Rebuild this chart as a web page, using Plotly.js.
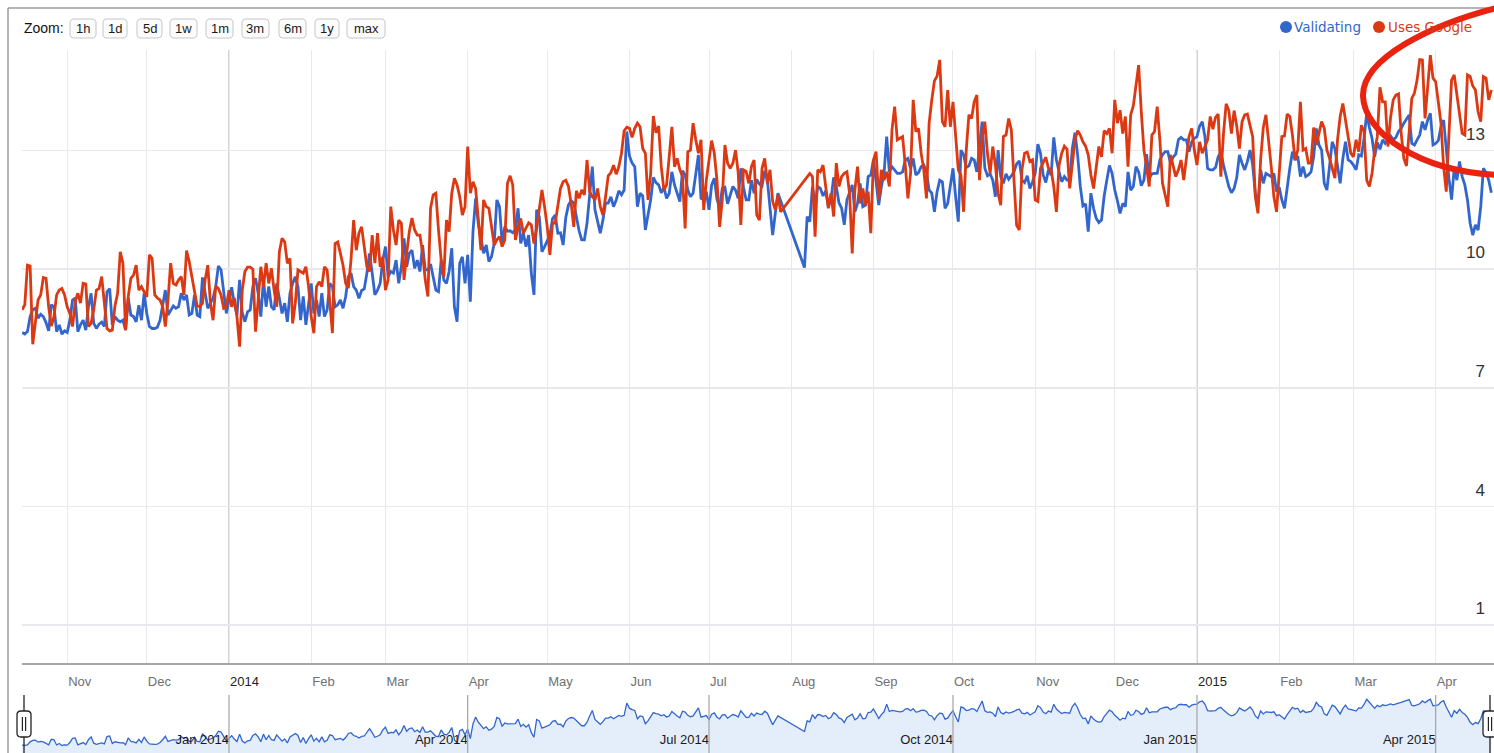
<!DOCTYPE html>
<html>
<head>
<meta charset="utf-8">
<script src="https://cdn.plot.ly/plotly-3.0.1.min.js"></script>
<style>html,body{margin:0;padding:0;background:#fff;}#chart{width:1494px;height:753px;}</style>
</head>
<body>
<div id="chart"></div>
<script>
// ---------------- DATA ----------------
// Daily values, first day = 2013-10-15; null = no data (line is joined across the gap)
const startDate = [2013, 9, 15];

const seriesNames = ['Validating', 'Uses Google'];

const validating = [
 8.40, 8.36, 8.42, 8.80, 8.98, 9.01, 8.76, 8.86, 8.80, 8.65,
 8.44, 9.10, 9.05, 8.42, 8.59, 8.36, 8.44, 8.40, 8.71, 9.22,
 9.27, 8.42, 8.59, 8.71, 8.46, 9.05, 9.39, 8.63, 8.50, 8.61,
 8.66, 8.55, 9.43, 9.51, 8.59, 8.80, 8.71, 8.67, 8.71, 8.46,
 9.27, 8.84, 8.80, 8.67, 9.09, 8.71, 9.39, 8.88, 8.55, 8.50,
 8.50, 8.53, 8.71, 9.05, 9.47, 8.84, 8.97, 9.07, 9.01, 9.05,
 9.39, 9.22, 9.35, 8.84, 8.88, 9.35, 8.84, 8.80, 9.79, 9.35,
 9.01, 9.14, 9.27, 9.56, 10.08, 9.98, 9.47, 8.88, 9.22, 9.54,
 9.14, 8.84, 9.73, 8.90, 8.67, 8.92, 8.97, 9.56, 9.77, 9.39,
 8.80, 9.73, 9.05, 9.56, 9.05, 8.97, 9.64, 9.22, 8.88, 9.14,
 8.67, 9.39, 9.64, 9.81, 9.56, 8.71, 9.31, 8.59, 9.18, 9.64,
 8.88, 9.22, 8.80, 9.39, 8.80, 8.97, 9.64, 9.56, 9.05, 9.10,
 9.22, 9.01, 9.31, 9.81, 9.90, 9.56, 9.47, 9.26, 9.46, 9.50,
 9.90, 10.40, 9.90, 9.35, 9.47, 9.64, 10.23, 10.57, 9.81, 9.94,
 9.90, 10.23, 9.64, 10.06, 10.78, 10.06, 10.40, 10.48, 10.02, 10.23,
 9.94, 10.61, 9.98, 9.98, 10.13, 9.77, 9.47, 9.43, 10.23, 9.73,
 9.64, 9.94, 10.53, 9.05, 8.67, 10.15, 10.31, 9.64, 10.36, 9.18,
 10.95, 11.79, 11.16, 10.78, 10.40, 10.61, 10.19, 10.32, 10.65, 11.75,
 11.58, 10.65, 11.07, 10.96, 10.97, 10.92, 10.99, 11.54, 10.65, 10.91,
 10.57, 10.86, 9.90, 9.35, 11.50, 11.33, 10.44, 10.57, 10.74, 10.86,
 11.28, 11.37, 10.91, 10.92, 10.61, 11.31, 11.62, 11.73, 11.67, 11.34,
 10.97, 10.74, 10.74, 11.16, 11.92, 12.59, 11.50, 11.24, 10.91, 11.24,
 11.67, 11.67, 11.83, 11.58, 11.75, 11.98, 11.88, 12.00, 13.48, 12.86,
 12.68, 12.59, 11.58, 11.92, 11.85, 10.99, 11.33, 11.75, 12.32, 12.19,
 12.13, 11.93, 12.07, 11.79, 11.92, 12.46, 12.13, 11.92, 11.71, 12.49,
 12.38, 12.00, 11.83, 11.92, 12.42, 12.89, 11.77, 11.82, 11.96, 11.50,
 12.13, 12.30, 11.77, 11.56, 12.04, 12.07, 11.65, 11.88, 12.09, 12.00,
 11.79, 12.55, 12.07, 11.75, 11.75, 12.25, 11.92, 12.27, 12.15, 12.10,
 12.49, 12.25, 11.54, 10.86, 11.41, 11.92, null, null, null, null,
 null, null, null, null, null, 10.04, 11.33, 11.20, 12.09, 11.62,
 12.09, 12.04, 11.85, 11.98, 11.58, 11.76, 12.32, 12.09, 11.68, 11.54,
 11.12, 11.75, 11.96, 12.13, 11.45, 11.66, 12.17, 11.58, 11.62, 12.34,
 12.38, 12.76, 12.21, 11.62, 12.09, 12.42, 13.35, 12.46, 12.59, 12.51,
 12.42, 12.42, 12.46, 12.76, 12.80, 12.55, 12.80, 12.38, 12.44, 12.59,
 12.63, 12.46, 12.00, 11.92, 11.45, 11.96, 12.25, 12.21, 11.54, 11.66,
 12.17, 12.55, 11.83, 11.20, 13.01, 12.89, 12.57, 12.61, 12.80, 12.76,
 12.46, 13.10, 13.73, 12.55, 12.36, 12.41, 12.25, 11.83, 13.01, 12.34,
 12.17, 12.41, 12.27, 12.36, 12.46, 12.66, 12.74, 12.25, 12.19, 12.36,
 12.04, 12.21, 12.42, 13.16, 12.93, 12.38, 12.19, 12.51, 12.38, 13.33,
 12.76, 12.46, 12.21, 12.34, 12.25, 12.25, 13.05, 13.45, 12.89, 12.09,
 11.60, 11.65, 10.95, 11.92, 11.54, 11.29, 11.18, 11.24, 11.85, 12.25,
 12.62, 12.42, 12.00, 11.73, 11.41, 11.66, 11.58, 12.46, 12.00, 12.09,
 12.59, 12.46, 12.11, 12.25, 12.91, 12.30, 12.41, 12.42, 12.42, 12.76,
 12.89, 12.97, 12.97, 12.68, 12.83, 12.91, 13.27, 13.33, 13.27, 13.27,
 12.97, 13.22, 13.31, 13.35, 13.62, 13.73, 13.35, 12.55, 12.51, 12.51,
 12.57, 12.84, 12.96, 12.63, 12.34, 12.09, 11.93, 12.04, 12.32, 12.89,
 12.68, 12.51, 12.72, 13.01, 12.63, 11.92, 11.62, 12.51, 12.17, 12.42,
 12.38, 12.34, 12.42, 11.96, 12.07, 11.75, 11.54, 12.09, 12.55, 12.97,
 12.76, 12.86, 12.34, 12.59, 12.34, 12.38, 12.46, 12.84, 13.56, 13.14,
 13.01, 12.17, 12.00, 12.61, 13.22, 13.05, 12.59, 12.17, 12.80, 13.22,
 12.76, 12.72, 12.63, 12.51, 12.89, 12.86, 13.31, 13.94, 13.58, 13.31,
 12.84, 13.20, 13.03, 13.27, 13.18, 13.27, 13.37, 13.27, 13.33, 13.48,
 13.56, 13.69, 13.81, 13.90, 13.18, 13.14, 13.27, 13.39, 13.73, 13.52,
 13.77, 13.94, 13.14, 13.18, 13.25, 13.60, 13.77, 13.01, 12.30, 11.76,
 12.55, 12.25, 12.72, 12.34, 12.13, 11.75, 11.16, 10.86, 11.12, 10.99,
 11.58, 12.55, 12.44, 12.25, 11.93
];

const usesGoogle = [
 8.97, 9.10, 10.10, 10.08, 8.10, 8.63, 9.22, 9.35, 9.79, 9.77,
 9.05, 8.56, 8.80, 9.35, 9.47, 9.51, 9.35, 9.05, 8.88, 8.55,
 9.18, 9.39, 9.14, 9.64, 9.62, 8.55, 8.63, 8.97, 9.47, 9.51,
 9.81, 9.14, 8.50, 8.44, 8.46, 9.07, 9.39, 10.44, 10.15, 8.46,
 9.30, 9.77, 9.85, 10.10, 9.47, 9.56, 9.43, 9.30, 10.36, 10.27,
 9.35, 9.27, 9.22, 9.05, 8.55, 9.22, 10.15, 9.64, 9.60, 9.73,
 9.81, 9.35, 10.47, 10.19, 9.81, 9.47, 9.07, 9.05, 9.14, 9.73,
 10.10, 9.14, 8.71, 9.57, 9.51, 9.35, 9.01, 9.05, 9.47, 9.05,
 9.27, 8.80, 8.04, 9.47, 9.94, 10.05, 10.05, 10.00, 8.42, 9.22,
 10.06, 9.56, 10.15, 9.64, 10.02, 9.47, 9.05, 10.44, 10.78, 10.69,
 10.15, 10.27, 8.63, 9.14, 9.98, 9.94, 9.90, 10.06, 9.56, 8.80,
 8.38, 9.56, 9.68, 9.56, 10.06, 9.98, 9.05, 8.38, 10.65, 10.69,
 10.40, 10.10, 9.64, 9.52, 10.23, 11.24, 10.48, 10.91, 11.07, 10.57,
 10.06, 9.94, 10.86, 10.15, 10.91, 10.06, 10.31, 9.47, 9.73, 11.58,
 10.99, 10.61, 11.24, 11.16, 9.73, 10.40, 10.95, 11.29, 10.99, 10.86,
 10.86, 10.40, 9.73, 9.31, 11.54, 11.88, 11.92, 10.99, 10.23, 9.81,
 11.24, 10.95, 11.92, 12.30, 12.13, 11.83, 11.37, 11.58, 13.10, 11.92,
 12.21, 12.04, 11.33, 10.48, 11.75, 11.58, 11.54, 11.03, 10.61, 10.74,
 10.82, 10.57, 10.74, 12.17, 12.36, 12.13, 10.74, 11.07, 11.28, 10.91,
 11.06, 11.17, 11.12, 10.65, 11.03, 11.58, 12.00, 11.58, 11.07, 10.36,
 11.17, 11.16, 11.58, 12.04, 12.21, 12.25, 12.09, 11.67, 11.07, 11.98,
 11.79, 12.00, 11.88, 12.76, 11.96, 11.83, 11.75, 12.04, 11.58, 11.37,
 11.83, 12.36, 12.44, 12.63, 12.40, 12.59, 12.93, 13.50, 13.59, 13.56,
 13.33, 13.56, 13.69, 13.60, 13.05, 12.93, 11.75, 12.42, 13.87, 13.45,
 13.62, 12.59, 12.00, 12.13, 12.85, 13.60, 12.59, 12.80, 12.51, 12.34,
 11.03, 12.97, 13.01, 13.69, 13.27, 12.93, 13.27, 11.50, 12.25, 12.80,
 13.25, 12.93, 12.25, 11.07, 11.75, 13.14, 12.68, 12.55, 12.68, 13.01,
 12.44, 11.12, 12.51, 12.47, 12.17, 12.59, 12.76, 11.37, 11.24, 12.55,
 12.80, 12.17, 12.51, 11.71, 11.50, 11.88, 11.45, null, null, null,
 null, null, null, null, null, null, null, 12.42, 12.34, 10.82,
 12.51, 12.46, 12.63, 12.09, 11.54, 11.92, 11.33, 12.68, 12.09, 12.34,
 12.42, 12.46, 11.92, 10.40, 12.00, 12.59, 11.66, 12.04, 11.62, 11.96,
 10.91, 12.76, 12.97, 11.75, 12.51, 12.25, 12.46, 12.09, 13.52, 14.11,
 13.27, 13.31, 13.35, 12.63, 11.79, 12.42, 14.28, 13.48, 13.56, 12.93,
 12.51, 11.79, 13.69, 14.28, 14.76, 14.88, 15.29, 13.73, 13.60, 14.53,
 13.60, 14.23, 13.27, 12.51, 12.38, 11.45, 13.01, 13.90, 13.81, 14.23,
 14.40, 12.25, 13.31, 13.73, 12.93, 12.42, 13.10, 12.63, 11.92, 11.62,
 13.35, 13.39, 13.81, 13.52, 12.25, 11.11, 10.99, 12.51, 12.93, 12.96,
 12.72, 12.76, 11.75, 11.71, 12.55, 12.68, 12.83, 12.55, 12.51, 12.09,
 11.45, 12.63, 12.93, 13.11, 13.03, 12.04, 12.68, 13.27, 13.50, 13.39,
 13.22, 13.11, 12.89, 12.38, 12.04, 12.51, 13.10, 12.84, 13.50, 13.43,
 13.56, 12.93, 14.28, 13.69, 14.02, 13.43, 13.86, 12.59, 13.90, 14.13,
 14.70, 15.16, 13.98, 13.01, 12.59, 12.09, 13.39, 13.48, 14.11, 13.27,
 12.17, 11.83, 11.58, 12.89, 12.59, 12.34, 12.51, 12.76, 12.25, 12.89,
 13.35, 13.56, 13.01, 12.63, 13.22, 12.93, 13.08, 13.27, 13.86, 13.54,
 13.84, 13.92, 12.34, 13.43, 14.18, 14.01, 13.43, 14.01, 13.62, 13.05,
 13.73, 13.90, 13.92, 13.64, 13.35, 11.83, 11.41, 12.76, 13.58, 13.90,
 13.31, 12.59, 11.83, 11.45, 12.42, 13.35, 13.37, 13.92, 13.86, 13.39,
 12.76, 13.01, 14.23, 13.01, 13.05, 12.68, 12.68, 13.58, 13.14, 13.48,
 13.73, 13.56, 13.01, 12.80, 12.55, 12.30, 13.27, 13.86, 14.19, 13.73,
 13.33, 12.93, 12.84, 13.27, 12.97, 13.64, 13.48, 12.25, 12.09, 12.42,
 13.01, 13.35, 14.60, 14.23, 14.23, 13.10, 13.84, 14.28, 14.40, 14.43,
 13.43, 12.80, 12.61, 13.60, 14.32, 14.45, 14.78, 15.30, 15.29, 13.81,
 14.53, 15.41, 14.83, 14.74, 14.23, 13.69, 12.59, 11.96, 13.39, 14.78,
 14.91, 14.45, 13.94, 13.43, 13.39, 14.91, 14.87, 14.63, 14.53, 13.98,
 13.73, 14.87, 14.83, 14.28, 14.53
];

const monthTickDates = ['2013-11-01','2013-12-01','2014-01-01','2014-02-01','2014-03-01','2014-04-01','2014-05-01','2014-06-01','2014-07-01','2014-08-01','2014-09-01','2014-10-01','2014-11-01','2014-12-01','2015-01-01','2015-02-01','2015-03-01','2015-04-01'];
const monthTickLabels = ['Nov','Dec','2014','Feb','Mar','Apr','May','Jun','Jul','Aug','Sep','Oct','Nov','Dec','2015','Feb','Mar','Apr'];
const yearStarts = ['2014-01-01','2015-01-01'];
const navTickDates = ['2014-01-01','2014-04-01','2014-07-01','2014-10-01','2015-01-01','2015-04-01'];
const navTickLabels = ['Jan 2014','Apr 2014','Jul 2014','Oct 2014','Jan 2015','Apr 2015'];
const yTicks = [1, 4, 7, 10, 13];
const zoomLabels = ['1h','1d','5d','1w','1m','3m','6m','1y','max'];

// ---------------- BUILD ----------------
const W = 1494, H = 753;
const PX = x => x / W, PY = y => 1 - y / H;
const dates = validating.map((_, i) =>
  new Date(Date.UTC(startDate[0], startDate[1], startDate[2] + i)).toISOString().slice(0, 10));

const BLUE = '#3366cc', RED = '#dc3912';
const FONT = 'Liberation Sans, Arial, sans-serif';

const traces = [
  {x: dates, y: validating, name: seriesNames[0], type: 'scatter', mode: 'lines',
   line: {color: BLUE, width: 2.8}, connectgaps: true, xaxis: 'x', yaxis: 'y', hoverinfo: 'skip'},
  {x: dates, y: usesGoogle, name: seriesNames[1], type: 'scatter', mode: 'lines',
   line: {color: RED, width: 2.8}, connectgaps: true, xaxis: 'x', yaxis: 'y', hoverinfo: 'skip'},
  {x: dates, y: validating, name: seriesNames[0] + ' (range)', type: 'scatter', mode: 'lines',
   line: {color: BLUE, width: 1.3}, fill: 'tozeroy', fillcolor: '#e4eefa', connectgaps: true,
   xaxis: 'x2', yaxis: 'y2', hoverinfo: 'skip'}
];

const xRange = ['2013-10-14 22:44', '2015-04-23 00:00'];
const isYear = t => /^\d{4}$/.test(t);

const shapes = [];
const annotations = [];

// year gridlines (darker)
yearStarts.forEach(d => shapes.push({type: 'line', xref: 'x', yref: 'paper', x0: d, x1: d,
  y0: PY(663), y1: PY(50), line: {color: '#c4c4c4', width: 1.5}, layer: 'between'}));

// navigator quarter lines, drawn over the filled area
navTickDates.forEach(d => shapes.push({type: 'line', xref: 'x2', yref: 'paper', x0: d, x1: d,
  y0: 0, y1: PY(695), line: {color: '#a3a3a3', width: 1.2}, layer: 'above'}));

// outer frame
shapes.push({type: 'line', xref: 'paper', yref: 'paper', x0: PX(8), x1: PX(8), y0: PY(8), y1: 0, line: {color: '#9c9c9c', width: 1.5}});
shapes.push({type: 'line', xref: 'paper', yref: 'paper', x0: PX(8), x1: 1, y0: PY(8), y1: PY(8), line: {color: '#9c9c9c', width: 1.5}});

// zoom buttons
function rr(x0, y0, x1, y1, r) {
  const X = v => PX(v).toFixed(5), Y = v => PY(v).toFixed(5);
  return `M${X(x0 + r)},${Y(y0)} L${X(x1 - r)},${Y(y0)} Q${X(x1)},${Y(y0)} ${X(x1)},${Y(y0 + r)} ` +
    `L${X(x1)},${Y(y1 - r)} Q${X(x1)},${Y(y1)} ${X(x1 - r)},${Y(y1)} L${X(x0 + r)},${Y(y1)} ` +
    `Q${X(x0)},${Y(y1)} ${X(x0)},${Y(y1 - r)} L${X(x0)},${Y(y0 + r)} Q${X(x0)},${Y(y0)} ${X(x0 + r)},${Y(y0)} Z`;
}
const btnBoxes = [[70,96],[103,127],[137,162],[170,197],[206,233],[242,269],[279,306],[315,339],[347,385]];
annotations.push({xref: 'paper', yref: 'paper', x: PX(22), y: PY(28), xanchor: 'left', yanchor: 'middle',
  text: 'Zoom:', showarrow: false, font: {family: FONT, size: 14, color: '#111'}});
zoomLabels.forEach((lab, i) => {
  const [a, b] = btnBoxes[i];
  shapes.push({type: 'path', xref: 'paper', yref: 'paper', path: rr(a, 19, b, 38, 4),
    line: {color: '#c6c6c6', width: 1}, fillcolor: '#fcfcfc'});
  annotations.push({xref: 'paper', yref: 'paper', x: PX((a + b) / 2), y: PY(28.5), xanchor: 'center', yanchor: 'middle',
    text: lab, showarrow: false, font: {family: FONT, size: 13, color: '#1a1a1a'}});
});

// legend (dots + coloured labels)
const legendItems = [{dot: 1286, text: 1292, color: BLUE, label: seriesNames[0]},
                     {dot: 1379, text: 1386, color: RED, label: seriesNames[1]}];
legendItems.forEach(it => {
  shapes.push({type: 'circle', xref: 'paper', yref: 'paper', x0: PX(it.dot - 6), x1: PX(it.dot + 6),
    y0: PY(33), y1: PY(21), fillcolor: it.color, line: {width: 0}});
  annotations.push({xref: 'paper', yref: 'paper', x: PX(it.text), y: PY(27), xanchor: 'left', yanchor: 'middle',
    text: it.label, showarrow: false, font: {family: 'DejaVu Sans, Verdana, sans-serif', size: 13.5, color: it.color}});
});

// range handles
function handle(cx) {
  shapes.push({type: 'line', xref: 'paper', yref: 'paper', x0: PX(cx), x1: PX(cx), y0: PY(695), y1: 0,
    line: {color: '#222', width: 1.3}});
  shapes.push({type: 'path', xref: 'paper', yref: 'paper', path: rr(cx - 7, 711, cx + 7, 737, 4),
    fillcolor: '#ffffff', line: {color: '#222', width: 1.3}});
  [-1.6, 1.6].forEach(o => shapes.push({type: 'line', xref: 'paper', yref: 'paper', x0: PX(cx + o), x1: PX(cx + o),
    y0: PY(717), y1: PY(731), line: {color: '#222', width: 1.2}}));
}
handle(24);
handle(1490);

// hand-drawn red ellipse annotation
const ell = [[1500, 7], [1432, 24], [1362, 58], [1363, 96], [1364, 132], [1418, 172], [1500, 175]];
const E = p => `${PX(p[0]).toFixed(5)},${PY(p[1]).toFixed(5)}`;
shapes.push({type: 'path', xref: 'paper', yref: 'paper', layer: 'above',
  path: `M${E(ell[0])} C${E(ell[1])} ${E(ell[2])} ${E(ell[3])} C${E(ell[4])} ${E(ell[5])} ${E(ell[6])}`,
  line: {color: '#ea2311', width: 6}});

const layout = {
  width: W, height: H,
  margin: {l: 0, r: 0, t: 0, b: 0, pad: 0},
  paper_bgcolor: '#ffffff', plot_bgcolor: '#ffffff',
  showlegend: false,
  xaxis: {
    type: 'date', domain: [PX(22), 1], range: xRange, anchor: 'y',
    tickmode: 'array', tickvals: monthTickDates,
    ticktext: monthTickLabels.map(t => isYear(t) ? `<span style="color:#222">${t}</span>` : t),
    ticks: '', ticklabelposition: 'outside right', ticklabelstandoff: 5,
    tickfont: {family: FONT, size: 13, color: '#707070'},
    showgrid: true, gridcolor: '#e8e8ee', gridwidth: 1,
    showline: true, linecolor: '#a6a6a6', linewidth: 2,
    zeroline: false, fixedrange: true
  },
  yaxis: {
    domain: [PY(663), PY(50)], range: [0.042, 15.541], anchor: 'x', side: 'right',
    tickmode: 'array', tickvals: yTicks, ticktext: yTicks.map(String),
    ticks: '', ticklabelposition: 'inside top', ticklabelstandoff: 6, ticklabelshift: -5,
    tickfont: {family: FONT, size: 17, color: '#333'},
    showgrid: true, gridcolor: '#e8e8ee', gridwidth: 1.5,
    showline: false, zeroline: false, fixedrange: true
  },
  xaxis2: {
    type: 'date', domain: [PX(22), 1], range: xRange, anchor: 'y2',
    tickmode: 'array', tickvals: navTickDates, ticktext: navTickLabels,
    ticks: '', ticklabelposition: 'inside left',
    tickfont: {family: FONT, size: 13, color: '#1a1a1a'},
    showgrid: false, showline: false, zeroline: false, fixedrange: true, layer: 'above traces'
  },
  yaxis2: {
    domain: [0, PY(694)], range: [7.45, 14.57], anchor: 'x2',
    visible: false, showgrid: false, zeroline: false, fixedrange: true
  },
  shapes: shapes,
  annotations: annotations
};

Plotly.newPlot('chart', traces, layout, {staticPlot: true, displayModeBar: false});
</script>
</body>
</html>
